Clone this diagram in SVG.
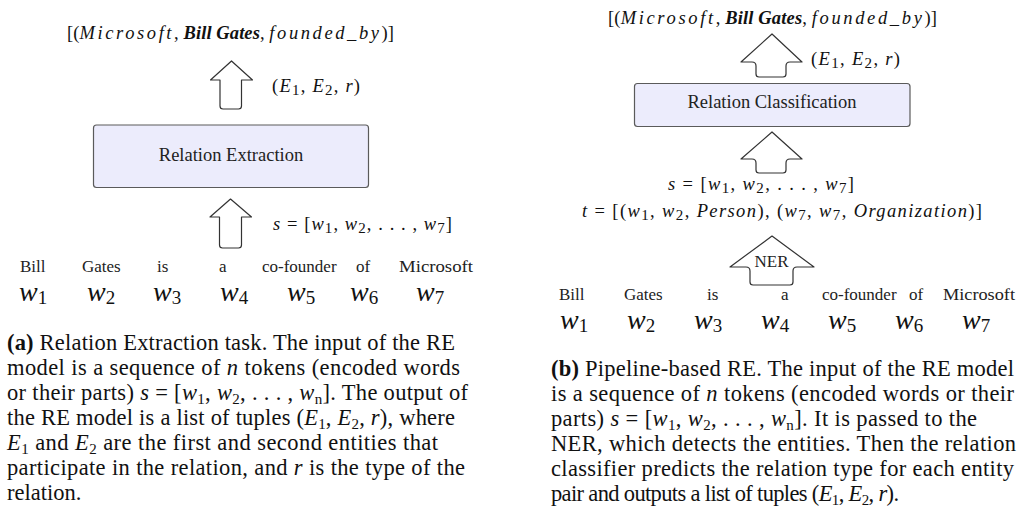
<svg xmlns="http://www.w3.org/2000/svg" width="1019" height="509" viewBox="0 0 1019 509">
<style>
text{font-family:"Liberation Serif","Times New Roman",serif;fill:#111}
.m{font-size:18.5px}
.box{fill:#ececfc;stroke:#5a5a5a;stroke-width:1.2}
.bt{font-size:18.5px;text-anchor:middle;fill:#222}
.arr{fill:#fff;stroke:#333;stroke-width:1.2;stroke-linejoin:round}
.wd{font-size:17px;fill:#222}
.w{font-size:28px;font-style:italic}
.ws{font-size:19px;font-style:normal}
.cap{font-size:22.5px}
.i{font-style:italic}
.b{font-weight:bold}
.s{font-size:15px;font-style:normal}
.ls{letter-spacing:2.5px}
</style>

<!-- Panel (a) -->
<g id="a-output">
<text class="m" x="67" y="39" textLength="327" lengthAdjust="spacing">[(<tspan class="i ls">Microsoft</tspan>, <tspan class="i b">Bill Gates</tspan>, <tspan class="i ls">founded_by</tspan>)]</text>
</g>
<g id="a-relation-extraction">
<rect class="box" x="93.5" y="125" width="275" height="62.5" rx="3"/>
<text class="bt" x="231" y="161">Relation Extraction</text>
</g>
<g id="a-connectors">
<path class="arr" d="M231.5,61 L252.5,80 L241.5,80 L241.5,106 Q241.5,109 238.5,109 L223,109 Q220,109 220,106 L220,80 L210.5,80 Z"/>
<path class="arr" d="M230.5,199 L251.5,217 L241.5,217 L241.5,245 Q241.5,248 238.5,248 L222.5,248 Q219.5,248 219.5,245 L219.5,217 L210,217 Z"/>
</g>
<g id="a-labels">
<text class="m" x="272" y="92" textLength="88" lengthAdjust="spacing">(<tspan class="i">E</tspan><tspan class="s" dy="3">1</tspan><tspan dy="-3">, </tspan><tspan class="i">E</tspan><tspan class="s" dy="3">2</tspan><tspan dy="-3">, </tspan><tspan class="i">r</tspan>)</text>
<text class="m" x="273" y="230" textLength="179" lengthAdjust="spacing"><tspan class="i">s</tspan> = [<tspan class="i">w</tspan><tspan class="s" dy="3">1</tspan><tspan dy="-3">, </tspan><tspan class="i">w</tspan><tspan class="s" dy="3">2</tspan><tspan dy="-3">, . . . , </tspan><tspan class="i">w</tspan><tspan class="s" dy="3">7</tspan><tspan dy="-3">]</tspan></text>
</g>
<g id="a-tokens">
<text class="wd" y="272"><tspan x="20">Bill</tspan><tspan x="82">Gates</tspan><tspan x="157">is</tspan><tspan x="219">a</tspan><tspan x="262">co-founder</tspan><tspan x="356">of</tspan></text>
<text class="wd" x="399" y="272" textLength="74" lengthAdjust="spacingAndGlyphs">Microsoft</text>
<text class="w" x="19" y="300.5">w<tspan class="ws" dy="3">1</tspan></text>
<text class="w" x="87" y="300.5">w<tspan class="ws" dy="3">2</tspan></text>
<text class="w" x="153" y="300.5">w<tspan class="ws" dy="3">3</tspan></text>
<text class="w" x="220" y="300.5">w<tspan class="ws" dy="3">4</tspan></text>
<text class="w" x="287" y="300.5">w<tspan class="ws" dy="3">5</tspan></text>
<text class="w" x="350" y="300.5">w<tspan class="ws" dy="3">6</tspan></text>
<text class="w" x="416" y="300.5">w<tspan class="ws" dy="3">7</tspan></text>
</g>
<g id="a-caption">
<text class="cap" x="7" y="350" textLength="448" lengthAdjust="spacing"><tspan class="b">(a)</tspan> Relation Extraction task. The input of the RE</text>
<text class="cap" x="7" y="375" textLength="453" lengthAdjust="spacing">model is a sequence of <tspan class="i">n</tspan> tokens (encoded words</text>
<text class="cap" x="7" y="400" textLength="461" lengthAdjust="spacing">or their parts) <tspan class="i">s</tspan> = [<tspan class="i">w</tspan><tspan class="s" dy="4">1</tspan><tspan dy="-4">, </tspan><tspan class="i">w</tspan><tspan class="s" dy="4">2</tspan><tspan dy="-4">, . . . , </tspan><tspan class="i">w</tspan><tspan class="s i" dy="4">n</tspan><tspan dy="-4">]. The output of</tspan></text>
<text class="cap" x="7" y="425" textLength="448" lengthAdjust="spacing">the RE model is a list of tuples (<tspan class="i">E</tspan><tspan class="s" dy="4">1</tspan><tspan dy="-4">, </tspan><tspan class="i">E</tspan><tspan class="s" dy="4">2</tspan><tspan dy="-4">, </tspan><tspan class="i">r</tspan>), where</text>
<text class="cap" x="7" y="450" textLength="431" lengthAdjust="spacing"><tspan class="i">E</tspan><tspan class="s" dy="4">1</tspan><tspan dy="-4"> and </tspan><tspan class="i">E</tspan><tspan class="s" dy="4">2</tspan><tspan dy="-4"> are the first and second entities that</tspan></text>
<text class="cap" x="7" y="475" textLength="458" lengthAdjust="spacing">participate in the relation, and <tspan class="i">r</tspan> is the type of the</text>
<text class="cap" x="7" y="500">relation.</text>
</g>

<!-- Panel (b) -->
<g id="b-output">
<text class="m" x="608" y="23.5" textLength="329" lengthAdjust="spacing">[(<tspan class="i ls">Microsoft</tspan>, <tspan class="i b">Bill Gates</tspan>, <tspan class="i ls">founded_by</tspan>)]</text>
</g>
<g id="b-relation-classification">
<rect class="box" x="634.5" y="83.5" width="275.5" height="43" rx="3"/>
<text class="bt" x="772" y="108">Relation Classification</text>
</g>
<g id="b-connectors">
<path class="arr" d="M772,34 L802,62 L790,62 Q786,62 786,66 L786,74 Q786,77 783,77 L759,77 Q756,77 756,74 L756,66 Q756,62 752,62 L741,62 Z"/>
<path class="arr" d="M772,132 L802,159 L790,159 Q786,159 786,163 L786,170 Q786,173 783,173 L759,173 Q756,173 756,170 L756,163 Q756,159 752,159 L741,159 Z"/>
</g>
<g id="b-ner">
<path class="arr" d="M772,236 L814,267 L797,267 Q793,267 793,271 L793,282 Q793,285 790,285 L753,285 Q750,285 750,282 L750,271 Q750,267 746,267 L730,267 Z"/>
<text class="wd" x="771.5" y="267" text-anchor="middle">NER</text>
</g>
<g id="b-labels">
<text class="m" x="811" y="65" textLength="89" lengthAdjust="spacing">(<tspan class="i">E</tspan><tspan class="s" dy="3">1</tspan><tspan dy="-3">, </tspan><tspan class="i">E</tspan><tspan class="s" dy="3">2</tspan><tspan dy="-3">, </tspan><tspan class="i">r</tspan>)</text>
<text class="m" x="668" y="190" textLength="186" lengthAdjust="spacing"><tspan class="i">s</tspan> = [<tspan class="i">w</tspan><tspan class="s" dy="3">1</tspan><tspan dy="-3">, </tspan><tspan class="i">w</tspan><tspan class="s" dy="3">2</tspan><tspan dy="-3">, . . . , </tspan><tspan class="i">w</tspan><tspan class="s" dy="3">7</tspan><tspan dy="-3">]</tspan></text>
<text class="m" x="582" y="217" textLength="400" lengthAdjust="spacing"><tspan class="i">t</tspan> = [(<tspan class="i">w</tspan><tspan class="s" dy="3">1</tspan><tspan dy="-3">, </tspan><tspan class="i">w</tspan><tspan class="s" dy="3">2</tspan><tspan dy="-3">, </tspan><tspan class="i">Person</tspan>), (<tspan class="i">w</tspan><tspan class="s" dy="3">7</tspan><tspan dy="-3">, </tspan><tspan class="i">w</tspan><tspan class="s" dy="3">7</tspan><tspan dy="-3">, </tspan><tspan class="i">Organization</tspan>)]</text>
</g>
<g id="b-tokens">
<text class="wd" y="300"><tspan x="559">Bill</tspan><tspan x="624">Gates</tspan><tspan x="707">is</tspan><tspan x="781">a</tspan><tspan x="822">co-founder</tspan><tspan x="909">of</tspan></text>
<text class="wd" x="943" y="300" textLength="72" lengthAdjust="spacingAndGlyphs">Microsoft</text>
<text class="w" x="560" y="328.5">w<tspan class="ws" dy="3">1</tspan></text>
<text class="w" x="627" y="328.5">w<tspan class="ws" dy="3">2</tspan></text>
<text class="w" x="694" y="328.5">w<tspan class="ws" dy="3">3</tspan></text>
<text class="w" x="761" y="328.5">w<tspan class="ws" dy="3">4</tspan></text>
<text class="w" x="828" y="328.5">w<tspan class="ws" dy="3">5</tspan></text>
<text class="w" x="895" y="328.5">w<tspan class="ws" dy="3">6</tspan></text>
<text class="w" x="962" y="328.5">w<tspan class="ws" dy="3">7</tspan></text>
</g>
<g id="b-caption">
<text class="cap" x="551" y="376" textLength="463" lengthAdjust="spacing"><tspan class="b">(b)</tspan> Pipeline-based RE. The input of the RE model</text>
<text class="cap" x="551" y="401" textLength="463" lengthAdjust="spacing">is a sequence of <tspan class="i">n</tspan> tokens (encoded words or their</text>
<text class="cap" x="551" y="426" textLength="426" lengthAdjust="spacing">parts) <tspan class="i">s</tspan>  =  [<tspan class="i">w</tspan><tspan class="s" dy="4">1</tspan><tspan dy="-4">, </tspan><tspan class="i">w</tspan><tspan class="s" dy="4">2</tspan><tspan dy="-4">, . . . , </tspan><tspan class="i">w</tspan><tspan class="s i" dy="4">n</tspan><tspan dy="-4">]. It is passed to the</tspan></text>
<text class="cap" x="551" y="451" textLength="465" lengthAdjust="spacing">NER, which detects the entities. Then the relation</text>
<text class="cap" x="551" y="476" textLength="463" lengthAdjust="spacing">classifier predicts the relation type for each entity</text>
<text class="cap" x="551" y="501" textLength="348" lengthAdjust="spacing">pair and outputs a list of tuples (<tspan class="i">E</tspan><tspan class="s" dy="4">1</tspan><tspan dy="-4">, </tspan><tspan class="i">E</tspan><tspan class="s" dy="4">2</tspan><tspan dy="-4">, </tspan><tspan class="i">r</tspan>).</text>
</g>
</svg>
